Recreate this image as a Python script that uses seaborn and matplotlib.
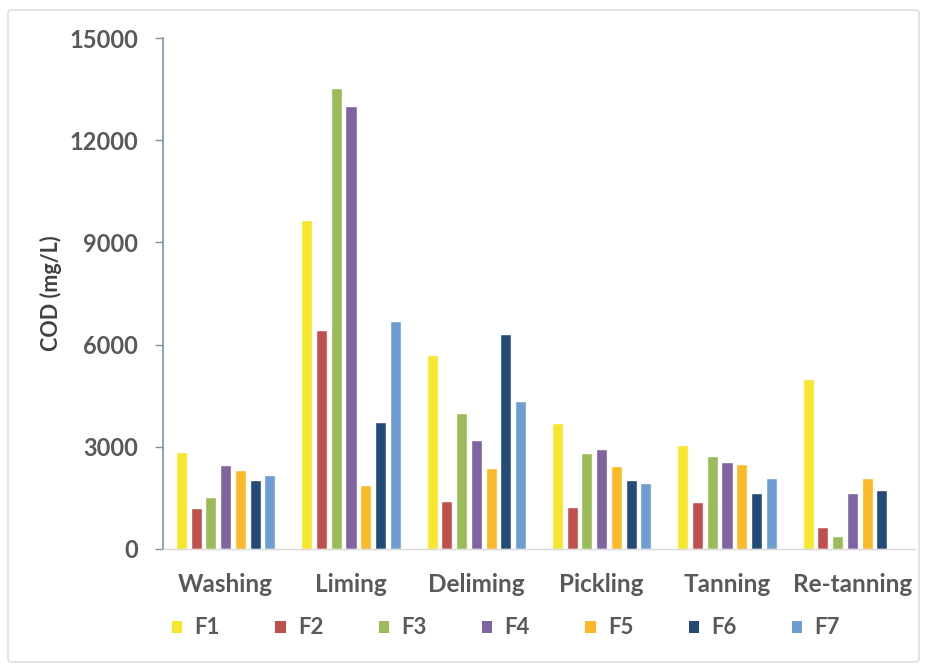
import matplotlib
matplotlib.use("Agg")
import matplotlib.pyplot as plt
from matplotlib.patches import Patch, FancyBboxPatch
import numpy as np
import pandas as pd
import seaborn as sns

# Process stages and formulations
stages = ["Washing", "Liming", "Deliming", "Pickling", "Tanning", "Re-tanning"]
formulations = ["F1", "F2", "F3", "F4", "F5", "F6", "F7"]

# COD (mg/L) per formulation, in stage order
f1 = [2840, 9660, 5700, 3710, 3060, 5000]
f2 = [1210, 6430, 1410, 1240, 1370, 640]
f3 = [1540, 13520, 3980, 2810, 2730, 380]
f4 = [2460, 13010, 3200, 2950, 2560, 1650]
f5 = [2320, 1870, 2390, 2440, 2500, 2090]
f6 = [2030, 3720, 6300, 2030, 1630, 1730]
f7 = [2170, 6690, 4340, 1940, 2090, np.nan]

yticks = [0, 3000, 6000, 9000, 12000, 15000]

colors = ["#f6e72c", "#c0504d", "#9bbb59", "#8064a2",
          "#fbb927", "#244a77", "#6d9dd3"]

series = [f1, f2, f3, f4, f5, f6, f7]
rows = []
for name, vals in zip(formulations, series):
    for stage, v in zip(stages, vals):
        rows.append({"stage": stage, "formulation": name, "cod": v})
df = pd.DataFrame(rows)

sns.set_theme(style="white")
plt.rcParams["font.family"] = ["Lato", "DejaVu Sans"]
plt.rcParams["font.weight"] = "bold"

text_color = "#595959"

fig = plt.figure(figsize=(9.27, 6.66), dpi=100)
fig.patch.set_facecolor("white")

# outer chart-area frame
frame = FancyBboxPatch((8 / 927, 4 / 666), 911 / 927, 652 / 666,
                       boxstyle="round,pad=0,rounding_size=0.004",
                       transform=fig.transFigure, fill=False,
                       edgecolor="#d9d9d9", linewidth=1.0, zorder=0)
fig.patches.append(frame)

ax = fig.add_axes([163 / 927, 117 / 666, 752 / 927, 511 / 666])

sns.barplot(data=df, x="stage", y="cod", hue="formulation",
            hue_order=formulations, order=stages,
            palette=colors, saturation=1, width=0.82, gap=0.25,
            errorbar=None, legend=False, ax=ax, zorder=2)

ax.set_ylim(0, 15000)
ax.set_yticks(yticks)
ax.set_yticklabels([str(t) for t in yticks], fontsize=17,
                   fontweight="bold", color=text_color)
ax.set_xticks(range(len(stages)))
ax.set_xticklabels(stages, fontsize=17.5, fontweight="bold", color=text_color)
ax.tick_params(axis="y", which="major", direction="out", length=6,
               width=1, color="#7f90a8", pad=12, left=True)
ax.tick_params(axis="x", which="major", length=0, pad=17)

ax.set_xlabel("")
ax.set_ylabel("COD (mg/L)", fontsize=15.5, fontweight="bold",
              color="#404040")
ax.yaxis.set_label_coords(-101 / 752, 0.5)

for side in ["top", "right"]:
    ax.spines[side].set_visible(False)
ax.spines["left"].set_color("#7f90a8")
ax.spines["left"].set_linewidth(1.2)
ax.spines["bottom"].set_color("#d9d9d9")
ax.spines["bottom"].set_linewidth(1.0)
ax.grid(False)
ax.set_facecolor("white")

handles = [Patch(facecolor=c, edgecolor="none", label=f)
           for c, f in zip(colors, formulations)]
leg = fig.legend(handles=handles, loc="center", ncol=7,
                 bbox_to_anchor=(506 / 927, 38 / 666), frameon=False,
                 prop={"size": 16, "weight": "bold"},
                 handlelength=0.46, handleheight=0.46,
                 handletextpad=0.55, columnspacing=2.5)
for t in leg.get_texts():
    t.set_color(text_color)

fig.savefig("out.png", dpi=100, facecolor="white")
